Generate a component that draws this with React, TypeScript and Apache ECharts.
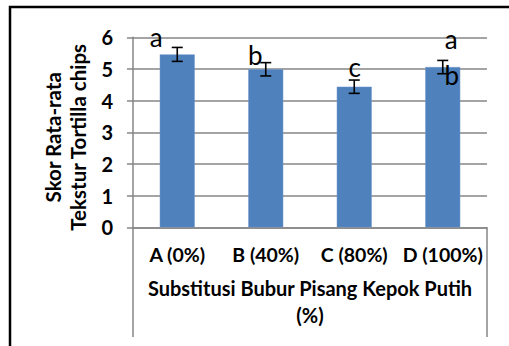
import React, { useEffect, useRef } from "react";
import * as echarts from "echarts";

const categories = ["A (0%)", "B (40%)", "C (80%)", "D (100%)"];
const meanScores = [5.46, 4.99, 4.44, 5.06];
const errorMargins = [0.22, 0.21, 0.21, 0.21];
const significanceLetters = [["a"], ["b"], ["c"], ["a", "b"]];
const yMin = 0;
const yMax = 6;
const yInterval = 1;
const yAxisTitle = "Skor Rata-rata\nTekstur Tortilla chips";
const xAxisTitle = "Substitusi Bubur Pisang Kepok Putih\n(%)";

// pixel offsets of letters relative to bar top (styling only)
const letterOffsets = [
  [[-21, -4]],
  [[-10.5, -1]],
  [[0.5, -7]],
  [[8.5, -15], [9, 21]],
];

const FONT = "Lato, 'Open Sans', sans-serif";

export default function App() {
  const ref = useRef<HTMLDivElement>(null);
  useEffect(() => {
    if (!ref.current) return;
    const chart = echarts.init(ref.current, undefined, { renderer: "svg" });
    const gridLeft = 133;
    const gridRight = 22;
    const gridTop = 37.3;
    const gridBottom = 118.7;
    const W = 509;
    const H = 346;
    chart.setOption({
      animation: false,
      backgroundColor: "#ffffff",
      textStyle: { fontFamily: FONT },
      grid: { left: gridLeft, right: gridRight, top: gridTop, bottom: gridBottom, containLabel: false },
      xAxis: {
        type: "category",
        data: categories,
        axisLine: { show: true, lineStyle: { color: "#868686", width: 1.5 } },
        axisTick: { show: false },
        axisLabel: { color: "#000", fontWeight: "bold", fontSize: 19.5, fontFamily: FONT, margin: 17, interval: 0 },
        name: xAxisTitle,
        nameLocation: "middle",
        nameGap: 47,
        nameTextStyle: { color: "#000", fontWeight: "bold", fontSize: 20, fontFamily: FONT, lineHeight: 27 },
      },
      yAxis: {
        type: "value",
        min: yMin,
        max: yMax,
        interval: yInterval,
        axisLine: { show: true, lineStyle: { color: "#868686", width: 1.5 } },
        axisTick: { show: true, inside: false, length: 6, lineStyle: { color: "#868686", width: 1.5 } },
        splitLine: { show: true, lineStyle: { color: "#868686", width: 1.5 } },
        axisLabel: { color: "#000", fontWeight: "bold", fontSize: 20, fontFamily: FONT, margin: 20 },
        name: yAxisTitle,
        nameLocation: "middle",
        nameRotate: 90,
        nameGap: 38,
        nameTextStyle: {
          color: "#000",
          fontWeight: "bold",
          fontSize: 20.5,
          fontFamily: FONT,
          lineHeight: 25,
          padding: [0, 10, 0, 0],
        },
      },
      series: [
        {
          type: "bar",
          data: meanScores,
          barWidth: "39.5%",
          itemStyle: { color: "#4F81BD", borderColor: "#6F96CC", borderWidth: 0.5 },
        },
        {
          type: "custom",
          data: meanScores.map((m, i) => [i, m, errorMargins[i]]),
          z: 5,
          renderItem: (params: any, api: any) => {
            const i = api.value(0);
            const m = api.value(1);
            const e = api.value(2);
            const hi = api.coord([i, m + e]);
            const lo = api.coord([i, m - e]);
            const cap = 5.5;
            const st = { stroke: "#000", lineWidth: 1.6 };
            return {
              type: "group",
              children: [
                { type: "line", shape: { x1: hi[0], y1: hi[1], x2: lo[0], y2: lo[1] }, style: st },
                { type: "line", shape: { x1: hi[0] - cap, y1: hi[1], x2: hi[0] + cap, y2: hi[1] }, style: st },
                { type: "line", shape: { x1: lo[0] - cap, y1: lo[1], x2: lo[0] + cap, y2: lo[1] }, style: st },
              ],
            };
          },
        },
        {
          type: "custom",
          data: meanScores.map((m, i) => [i, m]),
          z: 6,
          renderItem: (params: any, api: any) => {
            const i = api.value(0);
            const m = api.value(1);
            const top = api.coord([i, m]);
            const letters = significanceLetters[i];
            return {
              type: "group",
              children: letters.map((l, j) => ({
                type: "text",
                x: top[0] + letterOffsets[i][j][0],
                y: top[1] + letterOffsets[i][j][1],
                style: {
                  text: l,
                  fontSize: 26,
                  fontFamily: FONT,
                  fill: "#000",
                  align: "center",
                  verticalAlign: "bottom",
                },
              })),
            };
          },
        },
      ],
      graphic: [
        {
          type: "rect",
          shape: { x: 10, y: 7, width: 520, height: 360 },
          style: { fill: "none", stroke: "#000", lineWidth: 2.5 },
          silent: true,
        },
        {
          type: "line",
          shape: { x1: gridLeft, y1: H - gridBottom, x2: gridLeft, y2: 337 },
          style: { stroke: "#868686", lineWidth: 1.5 },
        },
        {
          type: "line",
          shape: { x1: W - gridRight, y1: H - gridBottom, x2: W - gridRight, y2: 337 },
          style: { stroke: "#868686", lineWidth: 1.5 },
        },
      ],
    });
    return () => chart.dispose();
  }, []);
  return <div ref={ref} style={{ width: 509, height: 346, position: "absolute", left: 0, top: 0 }} />;
}
